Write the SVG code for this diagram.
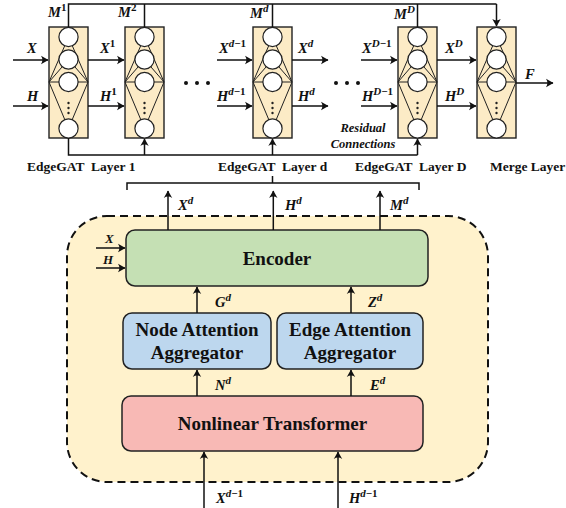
<svg xmlns="http://www.w3.org/2000/svg" xmlns:xlink="http://www.w3.org/1999/xlink" width="566" height="508" viewBox="0 0 566 508">
<style>
.m{font-family:"Liberation Serif","Times New Roman",serif;font-weight:bold;font-style:italic;font-size:14.5px;fill:#111}
.ms{font-size:13px}
.sup{font-size:11px}
.up{font-style:normal}
.lab{font-family:"Liberation Serif","Times New Roman",serif;font-weight:bold;font-size:13.5px;fill:#111;white-space:pre}
.res{font-family:"Liberation Serif","Times New Roman",serif;font-weight:bold;font-style:italic;font-size:12.5px;fill:#111;text-anchor:middle}
.bt{font-family:"Liberation Serif","Times New Roman",serif;font-weight:bold;font-size:19px;fill:#111;text-anchor:middle}
.ln{fill:none;stroke:#111;stroke-width:1.5}
.ar{fill:none;stroke:#111;stroke-width:1.5;marker-end:url(#ah)}
.box{stroke:#222;stroke-width:1.5}
</style>
<defs>
<marker id="ah" markerUnits="userSpaceOnUse" viewBox="-8 -5 10 10" refX="0" refY="0" markerWidth="10" markerHeight="10" orient="auto" overflow="visible">
<path d="M0.5,0 L-7,-4.2 Q-4.2,0 -7,4.2 Z" fill="#111" stroke="none"/>
</marker>
<g id="layerShape">
<rect x="0" y="0" width="39" height="111" fill="#FCEBC6" stroke="#222" stroke-width="1.4"/>
<g stroke="#222" stroke-width="1">
<line x1="0" y1="55" x2="19.5" y2="10"/>
<line x1="0" y1="55" x2="19.5" y2="32.5"/>
<line x1="0" y1="55" x2="19.5" y2="55"/>
<line x1="0" y1="55" x2="19.5" y2="101.5"/>
<line x1="39" y1="55" x2="19.5" y2="10"/>
<line x1="39" y1="55" x2="19.5" y2="32.5"/>
<line x1="39" y1="55" x2="19.5" y2="55"/>
<line x1="39" y1="55" x2="19.5" y2="101.5"/>
</g>
<g fill="#fff" stroke="#222" stroke-width="1.2">
<circle cx="19.5" cy="10" r="9.6"/>
<circle cx="19.5" cy="32.5" r="9.6"/>
<circle cx="19.5" cy="55" r="9.6"/>
<circle cx="19.5" cy="101.5" r="9.6"/>
</g>
<g fill="#222">
<circle cx="19.5" cy="76" r="1.2"/>
<circle cx="19.5" cy="81" r="1.2"/>
<circle cx="19.5" cy="86" r="1.2"/>
</g>
</g>
</defs>

<!-- lower container -->
<g id="container">
<rect x="67" y="216" width="421" height="266" rx="40" fill="#FFF2CC" stroke="#111" stroke-width="2" stroke-dasharray="8 5"/>
</g>

<!-- layer nodes -->
<g id="layer1"><use xlink:href="#layerShape" x="49" y="27"/></g>
<g id="layer2"><use xlink:href="#layerShape" x="125" y="27"/></g>
<g id="layerd"><use xlink:href="#layerShape" x="253" y="27"/></g>
<g id="layerD"><use xlink:href="#layerShape" x="398" y="27"/></g>
<g id="merge"><use xlink:href="#layerShape" x="477" y="27"/></g>

<g id="dots" fill="#111">
<circle cx="186" cy="83" r="2"/><circle cx="197" cy="83" r="2"/><circle cx="208" cy="83" r="2"/>
<circle cx="336" cy="83" r="2"/><circle cx="347" cy="83" r="2"/><circle cx="358" cy="83" r="2"/>
</g>

<!-- inner nodes -->
<g id="encoder">
<rect class="box" x="126" y="230" width="302" height="56" rx="9" fill="#C5E0B4"/>
<text class="bt" x="277" y="265">Encoder</text>
</g>
<g id="nodeAttn">
<rect class="box" x="123" y="313" width="148" height="56" rx="9" fill="#BDD7EE"/>
<text class="bt" x="197" y="336">Node Attention</text>
<text class="bt" x="197" y="359">Aggregator</text>
</g>
<g id="edgeAttn">
<rect class="box" x="277" y="313" width="146" height="56" rx="9" fill="#BDD7EE"/>
<text class="bt" x="350" y="336">Edge Attention</text>
<text class="bt" x="350" y="359">Aggregator</text>
</g>
<g id="nonlinear">
<rect class="box" x="122" y="396" width="301" height="55" rx="9" fill="#F8B9B5"/>
<text class="bt" x="272.5" y="430">Nonlinear Transformer</text>
</g>

<!-- connectors -->
<g id="connectors">
<path class="ln" d="M68.5,27 V4 H496.5"/>
<path class="ar" d="M496.5,4 V26"/>
<path class="ln" d="M144.5,27 V4 M272.5,27 V4 M417.5,27 V4"/>
<path class="ln" d="M68.5,138 V155 H417.5"/>
<path class="ar" d="M144.5,155 V139"/>
<path class="ar" d="M272.5,155 V139"/>
<path class="ar" d="M417.5,155 V139"/>
<path class="ar" d="M13,60 H48"/>
<path class="ar" d="M13,106 H48"/>
<path class="ar" d="M88,60 H124"/>
<path class="ar" d="M88,106 H124"/>
<path class="ar" d="M217,60 H252"/>
<path class="ar" d="M217,106 H252"/>
<path class="ar" d="M292,60 H328"/>
<path class="ar" d="M292,106 H328"/>
<path class="ar" d="M361,60 H397"/>
<path class="ar" d="M361,106 H397"/>
<path class="ar" d="M437,60 H476"/>
<path class="ar" d="M437,106 H476"/>
<path class="ar" d="M516,83 H553"/>
<path class="ln" d="M127,190 V183 H419 V190 M272.5,183 V176"/>
<path class="ar" d="M168,230 V191"/>
<path class="ar" d="M273.3,230 V191"/>
<path class="ar" d="M380,230 V191"/>
<path class="ar" d="M96,248 H125"/>
<path class="ar" d="M96,268 H125"/>
<path class="ar" d="M197,313 V287"/>
<path class="ar" d="M351,313 V287"/>
<path class="ar" d="M197,396 V370"/>
<path class="ar" d="M351,396 V370"/>
<path class="ar" d="M204,508 V452"/>
<path class="ar" d="M338,508 V452"/>
</g>

<!-- labels -->
<g id="labels">
<text class="m" x="48" y="17">M<tspan class="sup up" dy="-6">1</tspan></text>
<text class="m" x="118" y="17">M<tspan class="sup up" dy="-6">2</tspan></text>
<text class="m" x="250" y="18">M<tspan class="sup" dy="-6">d</tspan></text>
<text class="m" x="394" y="19">M<tspan class="sup" dy="-6">D</tspan></text>
<text class="m" x="27" y="53">X</text>
<text class="m" x="27" y="101">H</text>
<text class="m" x="100" y="53">X<tspan class="sup up" dy="-6">1</tspan></text>
<text class="m" x="100" y="101">H<tspan class="sup up" dy="-6">1</tspan></text>
<text class="m" x="219" y="53">X<tspan class="sup" dy="-6">d<tspan class="up">−1</tspan></tspan></text>
<text class="m" x="217" y="101">H<tspan class="sup" dy="-6">d<tspan class="up">−1</tspan></tspan></text>
<text class="m" x="298" y="53">X<tspan class="sup" dy="-6">d</tspan></text>
<text class="m" x="298" y="101">H<tspan class="sup" dy="-6">d</tspan></text>
<text class="m" x="362" y="53">X<tspan class="sup" dy="-6">D<tspan class="up">−1</tspan></tspan></text>
<text class="m" x="362" y="101">H<tspan class="sup" dy="-6">D<tspan class="up">−1</tspan></tspan></text>
<text class="m" x="445" y="53">X<tspan class="sup" dy="-6">D</tspan></text>
<text class="m" x="445" y="101">H<tspan class="sup" dy="-6">D</tspan></text>
<text class="m" x="525" y="79">F</text>
<text class="res" x="363" y="132">Residual</text>
<text class="res" x="363" y="148">Connections</text>
<text class="lab" x="27" y="171">EdgeGAT  Layer 1</text>
<text class="lab" x="218" y="171">EdgeGAT  Layer d</text>
<text class="lab" x="355" y="171">EdgeGAT  Layer D</text>
<text class="lab" x="490" y="171">Merge Layer</text>
<text class="m" x="178" y="210">X<tspan class="sup" dy="-6">d</tspan></text>
<text class="m" x="285" y="210">H<tspan class="sup" dy="-6">d</tspan></text>
<text class="m" x="390" y="210">M<tspan class="sup" dy="-6">d</tspan></text>
<text class="m ms" x="105" y="243">X</text>
<text class="m ms" x="103" y="264">H</text>
<text class="m" x="215" y="307">G<tspan class="sup" dy="-6">d</tspan></text>
<text class="m" x="368" y="307">Z<tspan class="sup" dy="-6">d</tspan></text>
<text class="m" x="215" y="390">N<tspan class="sup" dy="-6">d</tspan></text>
<text class="m" x="370" y="390">E<tspan class="sup" dy="-6">d</tspan></text>
<text class="m" x="216" y="503">X<tspan class="sup" dy="-6">d<tspan class="up">−1</tspan></tspan></text>
<text class="m" x="349" y="503">H<tspan class="sup" dy="-6">d<tspan class="up">−1</tspan></tspan></text>
</g>
</svg>
